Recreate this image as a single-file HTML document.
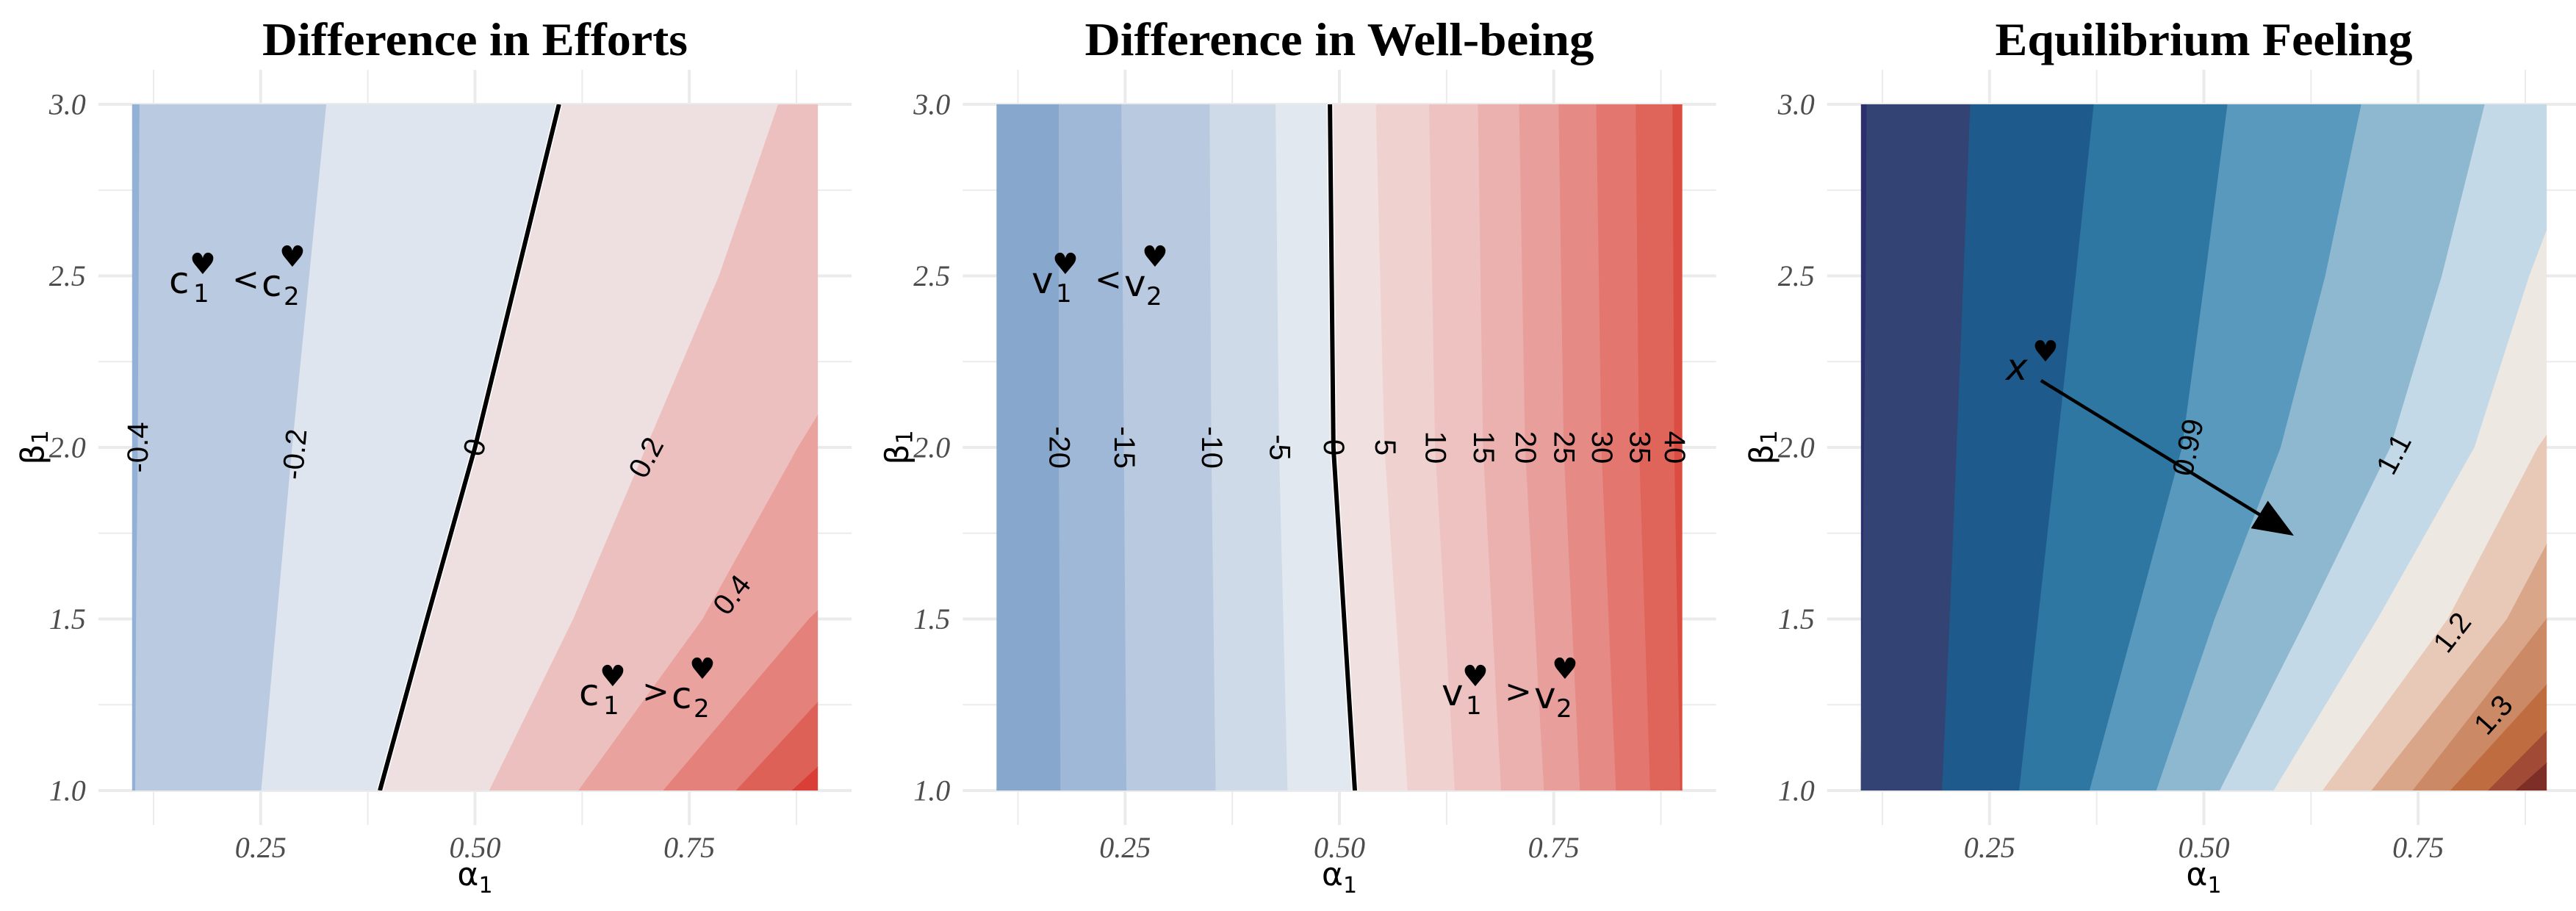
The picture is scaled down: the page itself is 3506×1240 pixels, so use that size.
<!DOCTYPE html>
<html><head><meta charset="utf-8"><style>
html,body{margin:0;padding:0;background:#fff;}
svg{display:block;}
</style></head><body>
<svg id="chart" width="3506" height="1240" viewBox="0 0 3506 1240" xmlns="http://www.w3.org/2000/svg"></svg>
<script>
// ---------- data ----------
const panelTitles = ["Difference in Efforts", "Difference in Well-being", "Equilibrium Feeling"];
const xTicks = [0.25, 0.5, 0.75];
const xTickLabels = ["0.25", "0.50", "0.75"];
const yTicks = [1.0, 1.5, 2.0, 2.5, 3.0];
const yTickLabels = ["1.0", "1.5", "2.0", "2.5", "3.0"];

// panel 1: contour boundaries (alpha at given beta)
const p1Betas = [3, 2.5, 2, 1.5, 1];
const p1Bounds = [
  [0.109,0.108,0.107,0.105,0.104],
  [0.327,0.307,0.287,0.269,0.251],
  [0.598,0.549,0.500,0.444,0.389],
  [0.854,0.785,0.700,0.615,0.517],
  [1.10,1.00,0.877,0.766,0.621],
  [1.40,1.25,1.10,0.89,0.72],
  [1.60,1.40,1.20,0.99,0.805],
  [1.80,1.60,1.40,1.09,0.87]
];
const p1Colors = ["#93b0d6","#b9cae1","#dfe5ee","#eee0e1","#edc0c0","#e9a29e","#e4817b","#de6158","#d93f37"];
const p1ZeroIndex = 2;
const p1Labels = ["-0.4","-0.2","0","0.2","0.4"];
const p1LabelPos = [[0.107,2.0,-90],[0.290,1.98,-85],[0.500,2.0,-75],[0.700,1.97,-62],[0.800,1.57,-52]];

// panel 2
const p2Betas = [3, 2, 1];
const p2Bounds = [
  [0.173,0.173,0.175],[0.246,0.249,0.252],[0.349,0.351,0.356],[0.426,0.430,0.440],
  [0.489,0.493,0.518],[0.543,0.553,0.580],[0.605,0.612,0.635],[0.662,0.668,0.689],
  [0.710,0.717,0.739],[0.756,0.762,0.781],[0.800,0.806,0.823],[0.846,0.850,0.863],
  [0.889,0.891,0.898]
];
const p2Colors = ["#87a7cd","#a0b8d8","#b8c9e0","#cfdae8","#e2e8f0","#f0e0df","#efd1d0","#edc2c1","#eab1af","#e89f9c","#e58a84","#e3776f","#df6459","#db4d42"];
const p2ZeroIndex = 4;
const p2Labels = ["-20","-15","-10","-5","0","5","10","15","20","25","30","35","40"];

// panel 3
const p3Betas = [3, 2.5, 2, 1.5, 1];
const p3Bounds = [
  [0.107,0.106,0.104,0.102,0.100],
  [0.228,0.220,0.212,0.204,0.195],
  [0.372,0.351,0.329,0.307,0.285],
  [0.528,0.502,0.475,0.421,0.367],
  [0.684,0.642,0.590,0.513,0.445],
  [0.828,0.778,0.718,0.620,0.519],
  [0.956,0.880,0.816,0.703,0.582],
  [1.15,1.03,0.89,0.785,0.639],
  [1.30,1.15,0.96,0.854,0.696],
  [1.40,1.25,1.10,0.90,0.744],
  [1.50,1.35,1.20,0.97,0.788],
  [1.60,1.45,1.30,1.03,0.832],
  [1.70,1.50,1.30,1.09,0.864]
];
const p3Colors = ["#2c2f6e","#334474","#1f5a8c","#2e77a3","#5899bd","#8db8d0","#c3d9e7","#ede8e2","#e8c8b7","#d9a68a","#cb8a65","#be6c40","#a14a36","#7c2e27"];
const p3Labels = ["0.99","1.1","1.2","1.3"];
const p3LabelPos = [[0.482,2.0,-78],[0.722,1.98,-62],[0.790,1.46,-52],[0.838,1.22,-48]];
const arrowFrom = [0.310, 2.195];
const arrowTo = [0.601, 1.749];

// ---------- layout ----------
const NS = "http://www.w3.org/2000/svg";
const svg = document.getElementById("chart");
const panelDX = 1176.5;
const X0 = 179.8, XU = 1166.7, Y3 = 142, YU = 467;
const titleWidths = [579, 693, 568];
function sx(p, a){ return X0 + p*panelDX + (a - 0.1)*XU; }
function sy(b){ return Y3 + (3 - b)*YU; }
function mk(tag, attrs, parent){
  const e = document.createElementNS(NS, tag);
  for (const k in attrs) e.setAttribute(k, attrs[k]);
  (parent||svg).appendChild(e);
  return e;
}
const defs = mk("defs", {});
for (let p=0;p<3;p++){
  const cp = mk("clipPath", {id:"clip"+p}, defs);
  mk("rect", {x:sx(p,0.1), y:sy(3), width:0.8*XU, height:2*YU}, cp);
}
const mrk = mk("marker", {id:"arrowhead", refX:"9", refY:"4", orient:"auto", markerUnits:"userSpaceOnUse"}, defs);
mrk.setAttribute("viewBox","0 0 10 8");
mrk.setAttribute("markerWidth","56"); mrk.setAttribute("markerHeight","44");
mk("path", {d:"M0,0 L10,4 L0,8 Z", fill:"#000"}, mrk);

function drawGrid(p){
  const g = mk("g", {});
  
  
  const gl = sx(p,0.1) - 46, gr = sx(p,0.9) + 46, gt = 95, gb = 1123;
  for (let b=1; b<=3.001; b+=0.25){
    const major = Math.abs(b*2 - Math.round(b*2)) < 1e-6;
    mk("line", {x1:gl, x2:gr, y1:sy(b), y2:sy(b), stroke:"#ebebeb", "stroke-width": major?4:2}, g);
  }
  [0.125,0.25,0.375,0.5,0.625,0.75,0.875].forEach((a,i)=>{
    mk("line", {x1:sx(p,a), x2:sx(p,a), y1:gt, y2:gb, stroke:"#ebebeb", "stroke-width": (i%2)?4:2}, g);
  });
}
function bandPath(p, betas, left, right){
  let pts = [];
  for (let i=0;i<betas.length;i++) pts.push([left? left[i] : -1, betas[i]]);
  for (let i=betas.length-1;i>=0;i--) pts.push([right? right[i] : 2, betas[i]]);
  return "M" + pts.map(q => sx(p,q[0]).toFixed(1)+","+sy(q[1]).toFixed(1)).join(" L") + " Z";
}
function linePath(p, betas, bound){
  return "M" + betas.map((b,i)=> sx(p,bound[i]).toFixed(1)+","+sy(b).toFixed(1)).join(" L");
}
function drawBands(p, betas, bounds, colors){
  const g = mk("g", {"clip-path":"url(#clip"+p+")"});
  
  
  for (let k=0;k<colors.length;k++){
    const path = mk("path", {d: bandPath(p, betas, k>0?bounds[k-1]:null, k<bounds.length?bounds[k]:null), fill: colors[k], stroke: colors[k], "stroke-width": 1}, g);
    
    
  }
  return g;
}
function label(p, txt, a, b, rot, size){
  const x = sx(p,a), y = sy(b);
  const t = mk("text", {x:x, y:y, "font-family":"Liberation Sans, sans-serif", "font-size": size||40, "text-anchor":"middle", "dominant-baseline":"central", transform:"rotate("+rot+" "+x+" "+y+")", fill:"#000"});
  t.textContent = txt;
  
  
}
function axes(p){
  const tt = mk("text", {x: sx(p,0.5), y: 75, "font-family":"Liberation Serif, serif", "font-weight":"bold", "font-size": 64, "text-anchor":"middle", fill:"#000", textLength: titleWidths[p], lengthAdjust:"spacingAndGlyphs"});
  tt.textContent = panelTitles[p];
  
  
  xTicks.forEach((v,i)=>{
    const t = mk("text", {x:sx(p,v), y:1167, "font-family":"Liberation Serif, serif", "font-style":"italic", "font-size":40, "text-anchor":"middle", fill:"#4d4d4d"});
    t.textContent = xTickLabels[i];
    
    
  });
  yTicks.forEach((v,i)=>{
    const t = mk("text", {x:sx(p,0.1)-63, y:sy(v), "font-family":"Liberation Serif, serif", "font-style":"italic", "font-size":40, "text-anchor":"end", "dominant-baseline":"central", fill:"#4d4d4d"});
    t.textContent = yTickLabels[i];
    
    
  });
  const xt = mk("text", {x:sx(p,0.5), y:1205, "font-family":"DejaVu Sans, sans-serif", "font-size":44, "text-anchor":"middle", fill:"#000"});
  xt.innerHTML = 'α<tspan font-size="30" dy="10">1</tspan>';
  
  
  const yx = sx(p,0.1)-135, yy = sy(2);
  const yt = mk("text", {x:yx, y:yy, "font-family":"DejaVu Sans, sans-serif", "font-size":44, "text-anchor":"middle", "dominant-baseline":"central", transform:"rotate(-90 "+yx+" "+yy+")", fill:"#000"});
  yt.innerHTML = 'β<tspan font-size="30" dy="10">1</tspan>';
  
  
}
function ineq(x, y, letter, op, name){
  const g = mk("g", {"font-family":"DejaVu Sans, sans-serif", fill:"#000"});
  
  
  const parts = [
    [letter, x, y, 50], ["1", x+33, y+12, 34], ["♥", x+28, y-26, 40],
    [op, x+86, y-4, 44],
    [letter, x+126, y+4, 50], ["2", x+156, y+16, 34], ["♥", x+150, y-36, 40]
  ];
  parts.forEach(q=>{
    const t = mk("text", {x:q[1], y:q[2], "font-size":q[3]}, g);
    t.textContent = q[0];
  });
}

// ---------- draw ----------
for (let p=0;p<3;p++) drawGrid(p);
drawBands(0, p1Betas, p1Bounds, p1Colors);
drawBands(1, p2Betas, p2Bounds, p2Colors);
drawBands(2, p3Betas, p3Bounds, p3Colors);
[[0,p1Betas,p1Bounds[p1ZeroIndex]],[1,p2Betas,p2Bounds[p2ZeroIndex]]].forEach(z=>{
  const g = mk("g", {"clip-path":"url(#clip"+z[0]+")"});
  mk("path", {d: linePath(z[0], z[1], z[2]), fill:"none", stroke:"#fff", "stroke-width":9}, g);
  const l = mk("path", {d: linePath(z[0], z[1], z[2]), fill:"none", stroke:"#000", "stroke-width":6}, g);
  
  
});
p1Labels.forEach((s,i)=> label(0, s, p1LabelPos[i][0], p1LabelPos[i][1], p1LabelPos[i][2]));
p2Labels.forEach((s,i)=> label(1, s, p2Bounds[i][1], 2.0, 90));
p3Labels.forEach((s,i)=> label(2, s, p3LabelPos[i][0], p3LabelPos[i][1], p3LabelPos[i][2]));
for (let p=0;p<3;p++) axes(p);
ineq(230, 399, "c", "<", "annotation-c1-less-c2");
ineq(788, 960, "c", ">", "annotation-c1-greater-c2");
ineq(1404, 399, "v", "<", "annotation-v1-less-v2");
ineq(1962, 960, "v", ">", "annotation-v1-greater-v2");
const xs = mk("text", {x:2730, y:517, "font-family":"DejaVu Sans, sans-serif", "font-style":"italic", "font-size":50, fill:"#000"});
xs.textContent = "x";


const xh = mk("text", {x:2766, y:492, "font-family":"DejaVu Sans, sans-serif", "font-size":40, fill:"#000"});
xh.textContent = "♥";


const ar = mk("line", {x1:sx(2,arrowFrom[0]), y1:sy(arrowFrom[1]), x2:sx(2,arrowTo[0]), y2:sy(arrowTo[1]), stroke:"#000", "stroke-width":4.5, "marker-end":"url(#arrowhead)"});


</script>
</body></html>
